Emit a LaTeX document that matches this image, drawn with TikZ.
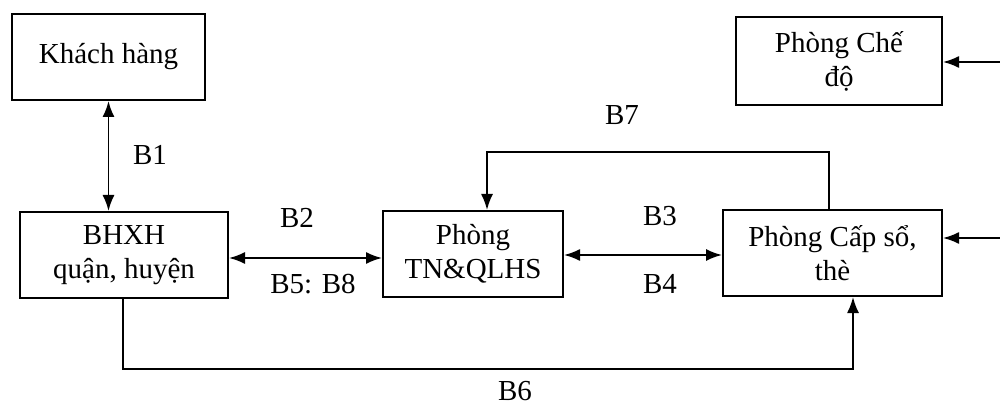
\documentclass[tikz,border=0pt]{standalone}
\usepackage{fontspec}
\setmainfont{Liberation Serif}
\usetikzlibrary{arrows.meta}
\begin{document}
\begin{tikzpicture}[x=0.5pt,y=-0.5pt,
  box/.style={draw,line width=1pt,inner sep=0pt,align=center,font=\fontsize{14.5}{17}\selectfont},
  lbl/.style={font=\fontsize{14.5}{17}\selectfont,inner sep=0pt},
  conn/.style={line width=0.9pt,-{Latex[length=8pt,width=6pt]}},
  dconn/.style={line width=0.9pt,{Latex[length=8pt,width=6pt]}-{Latex[length=8pt,width=6pt]}}]
\useasboundingbox (0,0) rectangle (1000,406);
\node[box,minimum width=96.5pt,minimum height=43pt] (kh) at (108.5,57) {Khách hàng};
\node[box,minimum width=103pt,minimum height=44pt] (cd) at (839,61) {Phòng Chế\\độ};
\node[box,minimum width=104pt,minimum height=43pt] (bhxh) at (124,255) {BHXH\\quận, huyện};
\node[box,minimum width=90pt,minimum height=43pt] (tn) at (473,254) {Phòng\\TN\&QLHS};
\node[box,minimum width=109.5pt,minimum height=43pt] (cap) at (832.5,253) {Phòng Cấp sổ,\\thè};
% connectors
\draw[dconn] (kh.south) -- (kh.south |- bhxh.north);
\coordinate (y2) at (0,258);
\draw[dconn] (bhxh.east |- y2) -- (tn.west |- y2);
\coordinate (y3) at (0,255);
\draw[dconn] (tn.east |- y3) -- (cap.west |- y3);
\coordinate (b7a) at (829,152);
\coordinate (b7b) at (487,152);
\draw[conn] (b7a |- cap.north) -- (b7a) -- (b7b) -- (b7b |- tn.north);
\coordinate (b6a) at (123,369);
\coordinate (b6b) at (853,369);
\draw[conn] (b6a |- bhxh.south) -- (b6a) -- (b6b) -- (b6b |- cap.south);
\coordinate (r1) at (1000,62);
\draw[conn] (r1) -- (r1 -| cd.east);
\coordinate (r2) at (1000,238);
\draw[conn] (r2) -- (r2 -| cap.east);
% labels
\node[lbl] (l1) at (150,155) {B1};
\node[lbl] (l2) at (297,218) {B2};
\node[lbl] (l58) at (313,284) {B5: B8};
\node[lbl] (l3) at (660,216) {B3};
\node[lbl] (l4) at (660,284) {B4};
\node[lbl] (l7) at (622,115) {B7};
\node[lbl] (l6) at (515,391) {B6};
\end{tikzpicture}
\end{document}
